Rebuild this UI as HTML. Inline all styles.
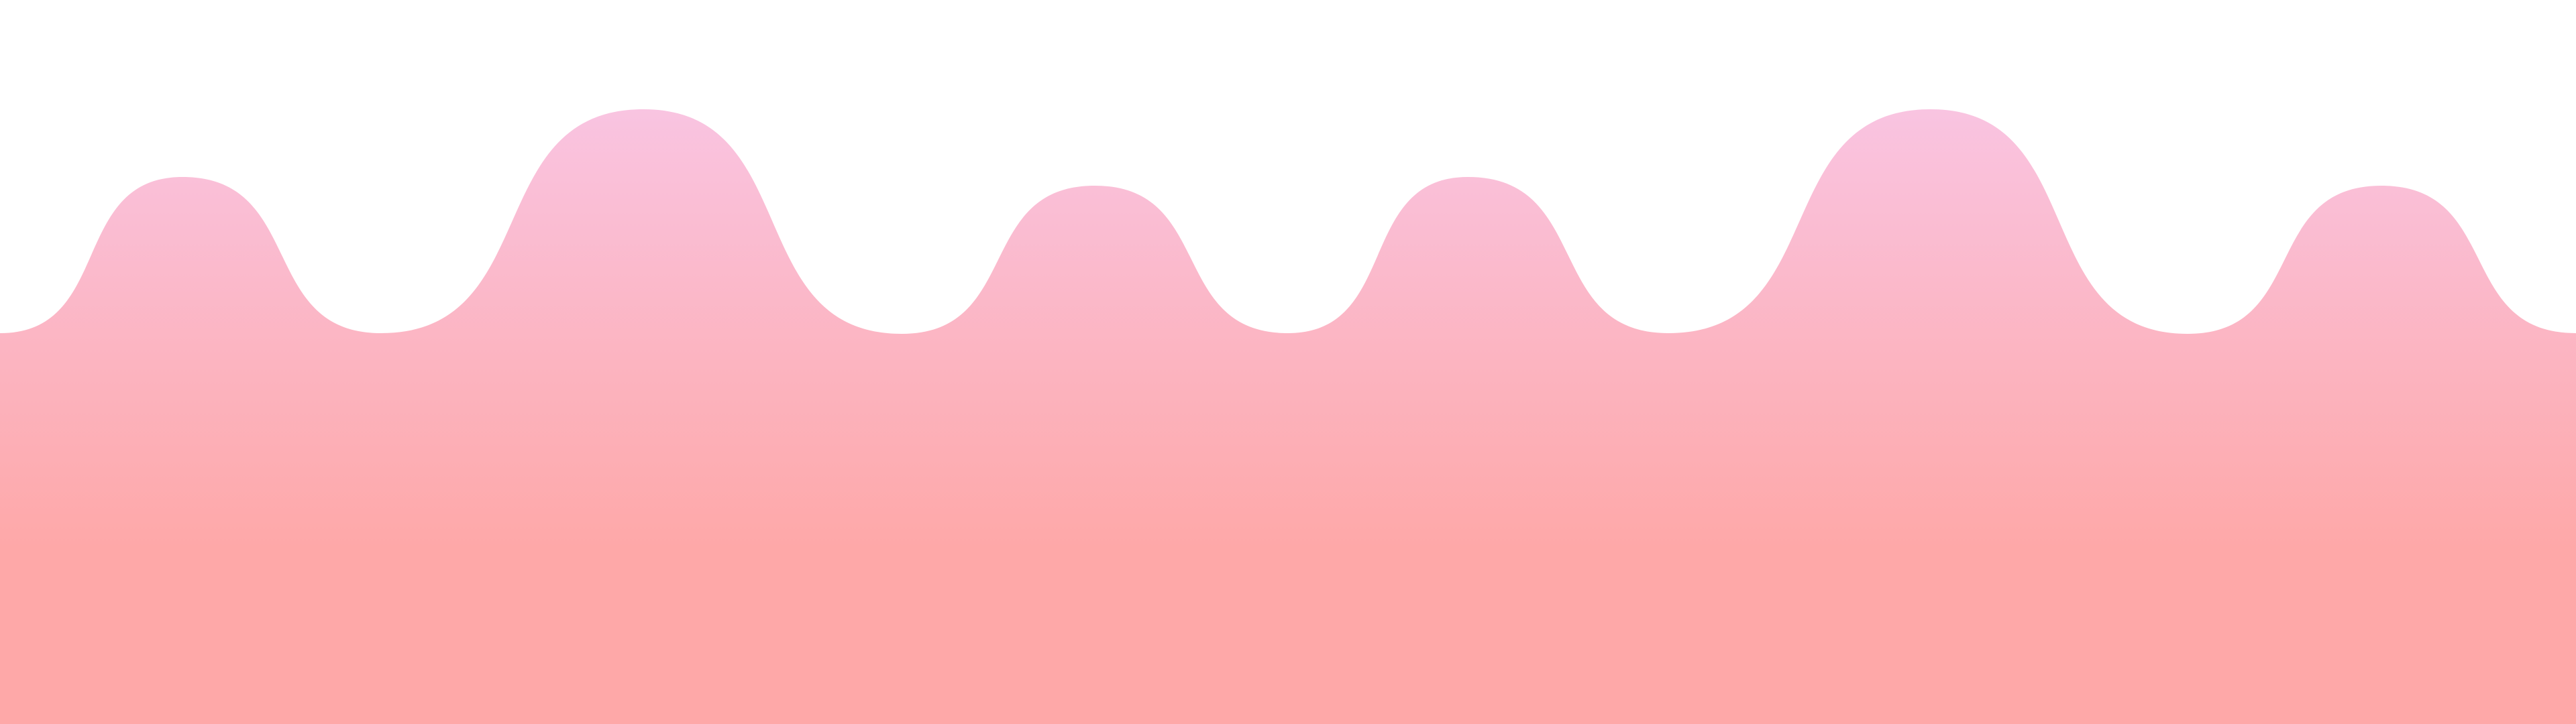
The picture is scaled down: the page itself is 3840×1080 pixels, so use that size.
<!DOCTYPE html>
<html><head><meta charset="utf-8"><style>
html,body{margin:0;padding:0;background:#fff;width:3840px;height:1080px;overflow:hidden}
svg{display:block}
</style></head><body>
<svg id="chart" width="3840" height="1080" viewBox="0 0 3840 1080">
<defs><linearGradient id="g" x1="0" y1="163" x2="0" y2="820" gradientUnits="userSpaceOnUse">
<stop offset="0" stop-color="#f9c4e1"/><stop offset="1" stop-color="#fea8a8"/></linearGradient></defs>
</svg>
<script>
const extremaX = [0, 272, 568, 959, 1344, 1632, 1920, 2188, 2487, 2878, 3261, 3550, 3840];
const extremaY = [497, 264, 497, 163, 498, 277, 497, 264, 497, 163, 498, 277, 497];
const svg = document.getElementById('chart');
let d = 'M' + extremaX[0] + ',' + extremaY[0];
for (let i = 1; i < extremaX.length; i++) {
  const x0 = extremaX[i-1], x1 = extremaX[i], y0 = extremaY[i-1], y1 = extremaY[i];
  const h = (x1 - x0) * 0.62;
  d += ' C' + (x0 + h) + ',' + y0 + ' ' + (x1 - h) + ',' + y1 + ' ' + x1 + ',' + y1;
}
d += ' L3840,1080 L0,1080 Z';
const p = document.createElementNS('http://www.w3.org/2000/svg', 'path');
p.setAttribute('d', d);
p.setAttribute('fill', 'url(#g)');


svg.appendChild(p);
</script>
</body></html>
